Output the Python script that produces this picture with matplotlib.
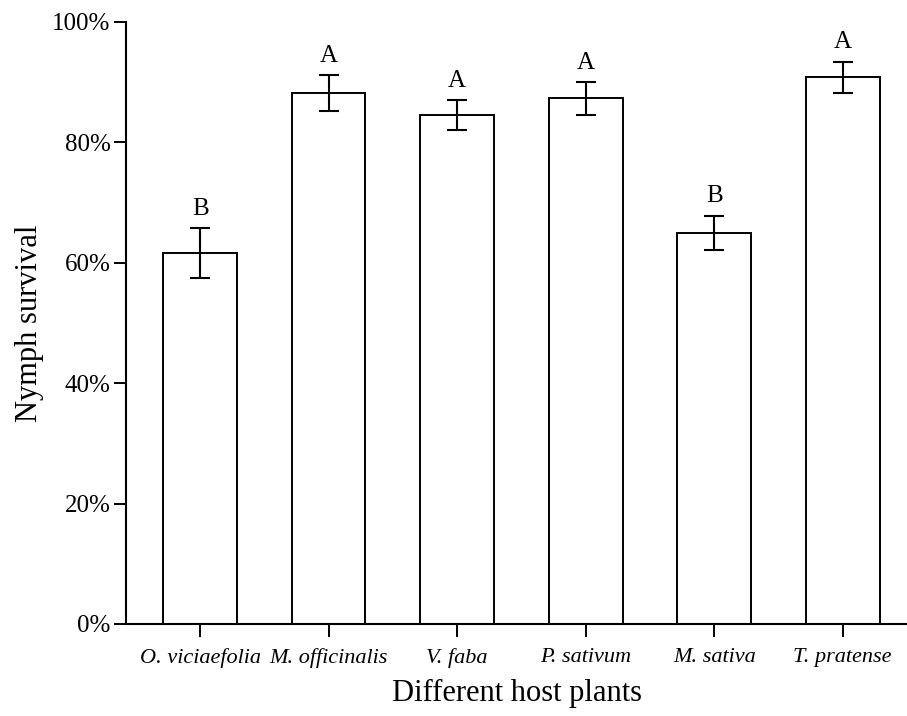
import numpy as np
import matplotlib
matplotlib.use("Agg")
import matplotlib.pyplot as plt
from matplotlib.ticker import FuncFormatter

plt.rcParams['font.family'] = ['Liberation Serif', 'DejaVu Serif']

# datos
plantas = ["O. viciaefolia", "M. officinalis", "V. faba", "P. sativum", "M. sativa", "T. pratense"]
supervivencia = [61.6, 88.2, 84.5, 87.3, 65.0, 90.8]
error = [4.1, 3.0, 2.5, 2.7, 2.8, 2.6]
letras = ["B", "A", "A", "A", "B", "A"]

fig = plt.figure(figsize=(9.07, 7.16), dpi=100)
ax = fig.add_axes([126/907, 1 - 624/716, (907 - 126)/907, (624 - 22)/716])

x = np.arange(len(plantas))
ax.bar(x, supervivencia, width=0.573, color="white", edgecolor="black", linewidth=1.4, zorder=2)
ax.errorbar(x, supervivencia, yerr=error, fmt="none", ecolor="black",
            elinewidth=1.5, capsize=7.2, capthick=1.5, zorder=3)

# letras de significancia
for xi, v, e, l in zip(x, supervivencia, error, letras):
    ax.text(xi, v + e + 1.4, l, ha="center", va="bottom", fontsize=18)

ax.set_xlim(-0.577, 5.5)
ax.set_ylim(0, 100)
ax.set_yticks(np.arange(0, 101, 20))
ax.yaxis.set_major_formatter(FuncFormatter(lambda v, p: f"{v:.0f}%"))
ax.set_xticks(x)
ax.set_xticklabels(plantas, fontstyle="italic", fontsize=16)
ax.tick_params(axis="y", labelsize=18, length=9, width=1.4, direction="out", pad=2)
ax.tick_params(axis="x", length=9, width=1.4, direction="out", pad=8)

for s in ["top", "right"]:
    ax.spines[s].set_visible(False)
for s in ["left", "bottom"]:
    ax.spines[s].set_linewidth(1.5)

ax.set_ylabel("Nymph survival", fontsize=22, labelpad=6)
ax.set_xlabel("Different host plants", fontsize=22, labelpad=8)

fig.savefig("out.png", dpi=100)
